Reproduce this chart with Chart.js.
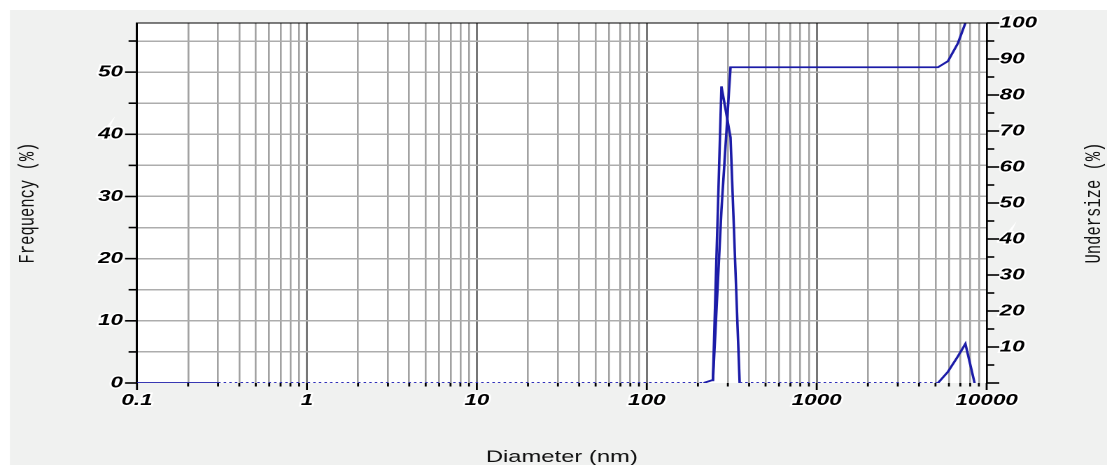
<!DOCTYPE html>
<html>
<head>
<meta charset="utf-8">
<script src="https://cdn.jsdelivr.net/npm/chart.js@4.4.1/dist/chart.umd.min.js"></script>
<style>
  html, body { margin: 0; padding: 0; background: #fff; overflow: hidden; }
  /* the source picture is stretched sideways, so the chart is drawn narrow and widened */
  #wrap { width: 791px; height: 465px; transform: scaleX(1.3995); transform-origin: 0 0; }
</style>
</head>
<body>
<div id="wrap"><canvas id="sizeChart" width="791" height="465"></canvas></div>
<script>
// 측정 데이터 (직경 nm)
const diameterNm = [0.1, 0.3, 190, 216, 245, 275, 311, 352, 5170, 5916, 6776, 7497, 8493];
const frequencyPct = [0, 0, 0, 0, 0.5, 47.7, 39.5, 0, 0, 1.8, 4.3, 6.3, 0];
const undersizeNm = [245, 275, 311, 5170, 5916, 6776, 7497];
const undersizePct = [0.5, 48, 87.7, 87.7, 89.4, 94.4, 100];

// 축 눈금
const decadeValues = [0.1, 1, 10, 100, 1000, 10000];
const decadeLabels = ['0.1', '1', '10', '100', '1000', '10000'];
const minorSteps = [1, 2, 3, 4, 5, 6, 7, 8, 9];
const freqTicks = [0, 5, 10, 15, 20, 25, 30, 35, 40, 45, 50, 55];
const underTicks = [0, 5, 10, 15, 20, 25, 30, 35, 40, 45, 50, 55, 60, 65, 70, 75, 80, 85, 90, 95, 100];

const solidZeroEnd = 0.3; // 0.3nm 이후의 0 구간은 점선
const lineBlue = '#1c1ca8';

const gridValues = [];
decadeValues.forEach((d, i) => {
    if (i === decadeValues.length - 1) { gridValues.push(d); return; }
    minorSteps.forEach(m => gridValues.push(Number((d * m).toPrecision(3))));
});
const isDecade = v => Math.abs(Math.log10(v) - Math.round(Math.log10(v))) < 1e-6;
const isDotted = c => c.p0.parsed.y === 0 && c.p1.parsed.y === 0 && c.p0.parsed.x >= solidZeroEnd;

const tickFont = { family: 'Liberation Sans', size: 16, weight: 'bold', style: 'italic' };

const bgPlugin = {
    id: 'bg',
    beforeDraw(chart) {
        const { ctx, chartArea: a, width, height } = chart;
        ctx.save();
        ctx.fillStyle = '#fff';
        ctx.fillRect(0, 0, width, height);
        ctx.fillStyle = '#f0f1f0';
        ctx.fillRect(7.1, 10, width - 7.1, height - 10);
        ctx.fillStyle = '#fff';
        ctx.fillRect(a.left, a.top, a.right - a.left, a.bottom - a.top);
        ctx.restore();
    }
};

const marksPlugin = {
    id: 'marks',
    afterDraw(chart) {
        const { ctx, chartArea: a, scales } = chart;
        ctx.save();
        ctx.strokeStyle = '#000';
        // 위쪽 테두리
        ctx.lineWidth = 1;
        ctx.beginPath();
        ctx.moveTo(a.left, a.top);
        ctx.lineTo(a.right, a.top);
        ctx.stroke();
        // x축 눈금
        ctx.lineWidth = 1.4;
        gridValues.forEach(v => {
            const x = scales.x.getPixelForValue(v);
            const len = isDecade(v) ? 7 : 3.5;
            ctx.beginPath();
            ctx.moveTo(x, a.bottom);
            ctx.lineTo(x, a.bottom + len);
            ctx.stroke();
        });
        // 왼쪽 y축 눈금
        ctx.lineWidth = 1.6;
        freqTicks.forEach(v => {
            const y = scales.y.getPixelForValue(v);
            const len = v % 10 === 0 ? 8.5 : 6;
            ctx.beginPath();
            ctx.moveTo(a.left, y);
            ctx.lineTo(a.left - len, y);
            ctx.stroke();
        });
        // 오른쪽 y축 눈금
        underTicks.forEach(v => {
            const y = scales.y1.getPixelForValue(v);
            const len = v % 10 === 0 ? 9 : 5.5;
            ctx.beginPath();
            ctx.moveTo(a.right, y);
            ctx.lineTo(a.right + len, y);
            ctx.stroke();
        });
        // 오른쪽 축 제목 (아래에서 위로)
        ctx.translate(781.7, (a.top + a.bottom) / 2);
        ctx.rotate(-Math.PI / 2);
        ctx.fillStyle = '#111';
        ctx.font = '15.5px "Liberation Mono"';
        ctx.textAlign = 'center';
        ctx.textBaseline = 'middle';
        ctx.fillText('Undersize (%)', 0, 0);
        ctx.restore();
    }
};

const ctx = document.getElementById('sizeChart').getContext('2d');
const sizeChart = new Chart(ctx, {
    type: 'line',
    data: {
        datasets: [
            {
                label: 'Frequency',
                data: diameterNm.map((d, i) => ({ x: d, y: frequencyPct[i] })),
                yAxisID: 'y',
                borderColor: lineBlue,
                borderWidth: 1.8,
                pointRadius: 0,
                tension: 0,
                segment: {
                    borderDash: c => isDotted(c) ? [1.8, 2.2] : undefined,
                    borderColor: c => isDotted(c) ? '#3030b8' : undefined,
                    borderWidth: c => isDotted(c) ? 2 : undefined
                }
            },
            {
                label: 'Undersize',
                data: undersizeNm.map((d, i) => ({ x: d, y: undersizePct[i] })),
                yAxisID: 'y1',
                borderColor: lineBlue,
                borderWidth: 1.8,
                pointRadius: 0,
                tension: 0
            }
        ]
    },
    options: {
        responsive: false,
        devicePixelRatio: 2,
        animation: false,
        layout: { padding: { top: 23, left: 0, right: 0, bottom: 0 } },
        plugins: {
            legend: { display: false },
            tooltip: { enabled: false }
        },
        scales: {
            x: {
                type: 'logarithmic',
                min: 0.1,
                max: 10000,
                afterBuildTicks: s => { s.ticks = gridValues.map(v => ({ value: v })); },
                afterFit: s => { s.height = 82; },
                border: { display: false },
                grid: {
                    color: c => isDecade(c.tick.value) ? '#777' : '#a2a2a2',
                    lineWidth: c => isDecade(c.tick.value) ? 1.5 : 1.3,
                    tickColor: 'transparent',
                    tickLength: 6
                },
                ticks: {
                    autoSkip: false,
                    maxRotation: 0,
                    padding: 2,
                    color: '#000',
                    font: tickFont,
                    textStrokeColor: '#fff',
                    textStrokeWidth: 3,
                    callback: value => {
                        const i = decadeValues.findIndex(d => Math.abs(d - value) / d < 1e-6);
                        return i >= 0 ? decadeLabels[i] : '';
                    }
                },
                title: {
                    display: true,
                    text: 'Diameter (nm)',
                    color: '#111',
                    font: { family: 'Liberation Sans', size: 17, lineHeight: 0.9 },
                    padding: 0
                }
            },
            y: {
                position: 'left',
                min: 0,
                max: 57.9,
                afterBuildTicks: s => { s.ticks = freqTicks.map(v => ({ value: v })); },
                afterFit: s => { s.width = 97.86; },
                border: { display: true, color: '#000', width: 1.5 },
                grid: {
                    color: c => c.tick.value === 0 ? 'transparent' : '#adadad',
                    lineWidth: 1.5,
                    tickColor: 'transparent',
                    tickLength: 7
                },
                ticks: {
                    padding: 3,
                    color: '#000',
                    font: tickFont,
                    textStrokeColor: '#fff',
                    textStrokeWidth: 3,
                    callback: v => v % 10 === 0 ? String(v) : ''
                },
                title: {
                    display: true,
                    text: 'Frequency (%)',
                    color: '#111',
                    font: { family: 'Liberation Mono', size: 15.5 },
                    padding: { top: 10.7, bottom: 0 }
                }
            },
            y1: {
                position: 'right',
                min: 0,
                max: 100,
                afterBuildTicks: s => { s.ticks = underTicks.map(v => ({ value: v })); },
                afterFit: s => { s.width = 86; },
                border: { display: true, color: '#000', width: 1.2 },
                grid: {
                    drawOnChartArea: false,
                    tickColor: 'transparent',
                    tickLength: 7
                },
                ticks: {
                    padding: 2.3,
                    color: '#000',
                    font: tickFont,
                    textStrokeColor: '#fff',
                    textStrokeWidth: 3,
                    callback: v => (v % 10 === 0 && v > 0) ? String(v) : ''
                }
            }
        }
    },
    plugins: [bgPlugin, marksPlugin]
});
</script>
</body>
</html>
